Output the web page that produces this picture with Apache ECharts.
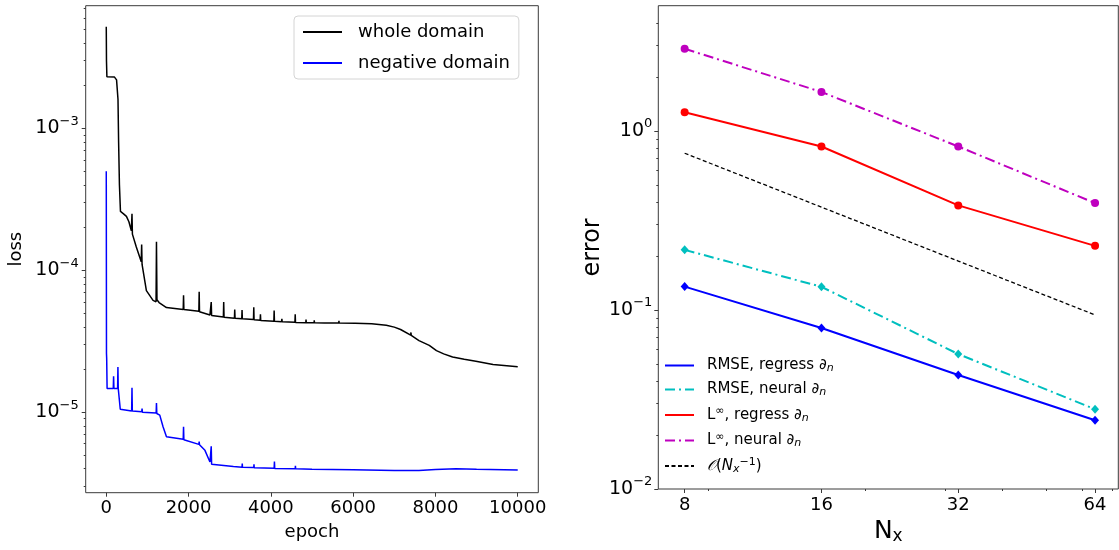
<!DOCTYPE html>
<html>
<head>
<meta charset="utf-8">
<script src="https://cdn.jsdelivr.net/npm/echarts@6/dist/echarts.min.js"></script>
<style>
html, body { margin: 0; padding: 0; background: #fff; }
#main { width: 1119px; height: 550px; }
</style>
</head>
<body>
<div id="main"></div>
<script>
// ---- left panel: training loss ----
var wholeEpoch = [0, 5, 15, 200, 250, 285, 300, 320, 345, 420, 490, 550, 610, 625, 635, 730, 850, 860, 870, 975, 1137, 1210, 1220, 1232, 1283, 1463,
    1870, 1878, 1886, 2250, 2258, 2266, 2520, 2545, 2551, 2560, 2846, 2854, 2862, 3115, 3122, 3130, 3293, 3300, 3307,
    3578, 3585, 3592, 3740, 3747, 3754, 4073, 4080, 4087, 4261, 4268, 4275, 4585, 4592, 4599,
    4850, 4855, 4860, 5050, 5055, 5060, 5300, 5305, 5310, 5650, 5655, 5660, 6050, 6055, 6060, 6450, 6455, 6460,
    6805, 7000, 7153, 7398, 7405, 7412, 7600, 7850, 8025, 8200, 8417, 8700, 8983, 9400, 10000];
var wholeLoss = [5.2e-3, 3.0e-3, 2.31e-3, 2.3e-3, 2.2e-3, 1.6e-3, 8e-4, 4e-4, 2.6e-4, 2.5e-4, 2.4e-4, 2.2e-4, 1.9e-4, 2.5e-4, 1.8e-4, 1.46e-4, 1.15e-4, 1.52e-4, 1.1e-4, 7.2e-5, 6.15e-5, 6.0e-5, 1.59e-4, 6.2e-5, 5.93e-5, 5.47e-5,
    5.3e-5, 6.67e-5, 5.3e-5, 5.14e-5, 7.05e-5, 5.1e-5, 4.85e-5, 4.82e-5, 5.98e-5, 4.8e-5, 4.69e-5, 5.98e-5, 4.68e-5, 4.6e-5, 5.3e-5, 4.6e-5, 4.55e-5, 5.25e-5, 4.55e-5,
    4.5e-5, 5.5e-5, 4.48e-5, 4.45e-5, 4.9e-5, 4.43e-5, 4.38e-5, 5.2e-5, 4.37e-5, 4.35e-5, 4.55e-5, 4.34e-5, 4.3e-5, 4.9e-5, 4.29e-5,
    4.28e-5, 4.5e-5, 4.28e-5, 4.27e-5, 4.45e-5, 4.27e-5, 4.26e-5, 4.4e-5, 4.26e-5, 4.25e-5, 4.4e-5, 4.25e-5, 4.24e-5, 4.35e-5, 4.23e-5, 4.2e-5, 4.3e-5, 4.2e-5,
    4.1e-5, 3.98e-5, 3.83e-5, 3.5e-5, 3.65e-5, 3.48e-5, 3.2e-5, 2.96e-5, 2.72e-5, 2.58e-5, 2.45e-5, 2.36e-5, 2.29e-5, 2.17e-5, 2.09e-5];
var negEpoch = [0, 5, 10, 20, 170, 178, 186, 275, 283, 291, 340, 360, 617, 625, 633, 862, 870, 878, 1212, 1220, 1228, 1300, 1380, 1463,
    1870, 1878, 1886, 2250, 2258, 2266, 2398, 2520, 2545, 2551, 2560, 2577, 3090, 3300, 3305, 3310, 3585, 3590, 3595,
    4080, 4087, 4094, 4592, 4597, 4602, 5000, 6000, 7000, 7600, 8000, 8500, 9000, 10000];
var negLoss = [5.0e-4, 2.6e-5, 2.39e-5, 1.47e-5, 1.47e-5, 1.79e-5, 1.47e-5, 1.47e-5, 2.08e-5, 1.47e-5, 1.05e-5, 1.02e-5, 1.02e-5, 1.49e-5, 1.02e-5, 1.01e-5, 1.06e-5, 1.0e-5, 9.86e-6, 1.16e-5, 9.8e-6, 9.55e-6, 7.9e-6, 6.73e-6,
    6.46e-6, 7.9e-6, 6.4e-6, 5.94e-6, 6.2e-6, 5.9e-6, 5.39e-6, 4.46e-6, 4.35e-6, 5.75e-6, 4.3e-6, 4.28e-6, 4.15e-6, 4.1e-6, 4.35e-6, 4.1e-6, 4.08e-6, 4.3e-6, 4.07e-6,
    4.03e-6, 4.5e-6, 4.02e-6, 4.0e-6, 4.2e-6, 4.0e-6, 3.97e-6, 3.93e-6, 3.89e-6, 3.88e-6, 3.95e-6, 4.0e-6, 3.97e-6, 3.92e-6];
var epochTicks = [0, 2000, 4000, 6000, 8000, 10000];
var lossTicks = [1e-5, 1e-4, 1e-3];
var lossTickLabels = ['10{s|−5}', '10{s|−4}', '10{s|−3}'];
var lossMinorTicks = [3e-6, 4e-6, 5e-6, 6e-6, 7e-6, 8e-6, 9e-6,
    2e-5, 3e-5, 4e-5, 5e-5, 6e-5, 7e-5, 8e-5, 9e-5,
    2e-4, 3e-4, 4e-4, 5e-4, 6e-4, 7e-4, 8e-4, 9e-4,
    2e-3, 3e-3, 4e-3, 5e-3, 6e-3, 7e-3];

// ---- right panel: error vs N_x ----
var nx = [8, 16, 32, 64];
var rmseRegress = [0.135, 0.0792, 0.0433, 0.0242];
var rmseNeural = [0.2165, 0.1346, 0.0567, 0.0279];
var linfRegress = [1.27, 0.818, 0.3836, 0.228];
var linfNeural = [2.874, 1.649, 0.818, 0.395];
var refOrder = [0.75, 0.375, 0.1875, 0.09375];
var nxMinorTicks = [9, 20, 30, 40, 50, 60, 70];
var errTicks = [0.01, 0.1, 1];
var errTickLabels = ['10{s|−2}', '10{s|−1}', '10{s|0}'];
var errMinorTicks = [0.02, 0.03, 0.04, 0.05, 0.06, 0.07, 0.08, 0.09,
    0.2, 0.3, 0.4, 0.5, 0.6, 0.7, 0.8, 0.9, 2, 3, 4];

var errNames = ['RMSE, regress ∂n', 'RMSE, neural ∂n', 'L∞, regress ∂n', 'L∞, neural ∂n', 'O(Nx^-1)'];
var errLegendLabels = [
    '{t|RMSE, regress ∂}{sub|n}',
    '{t|RMSE, neural ∂}{sub|n}',
    '{t|L}{sup|∞}{t|, regress ∂}{sub|n}',
    '{t|L}{sup|∞}{t|, neural ∂}{sub|n}',
    '{it|𝒪}{t|(}{it|N}{sub|x}{sup|−1}{t|)}'
];

var FONT = 'DejaVu Sans';
var FRAME = '#3a3a3a';

function zip(xs, ys) {
    return xs.map(function (x, i) { return [x, ys[i]]; });
}
function pickLabel(ticks, labels, v) {
    for (var i = 0; i < ticks.length; i++) {
        if (Math.abs(Math.log10(v) - Math.log10(ticks[i])) < 1e-6) return labels[i];
    }
    return '';
}

var supRich = {
    s: {fontSize: 13, fontFamily: FONT, color: '#000', padding: [0, 0, 14, 0]}
};

// shared pieces for the invisible "minor tick" axes
function minorAxis(type, gridIndex, pos, extra) {
    var a = {
        type: type, gridIndex: gridIndex, position: pos,
        axisLine: {show: false, onZero: false},
        axisLabel: {show: false},
        splitLine: {show: false}
    };
    for (var k in extra) a[k] = extra[k];
    return a;
}

var chart = echarts.init(document.getElementById('main'));
var option = {
    animation: false,
    backgroundColor: '#fff',
    textStyle: {fontFamily: FONT},
    grid: [
        {left: 85.7, top: 5.7, width: 452.6, height: 487, show: true, borderColor: FRAME, borderWidth: 1, backgroundColor: 'transparent'},
        {left: 658.3, top: 5.7, width: 460, height: 484.3, show: true, borderColor: FRAME, borderWidth: 1, backgroundColor: 'transparent'}
    ],
    xAxis: [
        {
            type: 'value', gridIndex: 0, position: 'bottom', min: -500, max: 10500,
            name: 'epoch', nameLocation: 'middle', nameGap: 31,
            nameTextStyle: {fontSize: 18, color: '#000', fontFamily: FONT},
            axisLine: {show: false, onZero: false},
            axisTick: {customValues: epochTicks, length: 4, lineStyle: {color: FRAME}},
            axisLabel: {customValues: epochTicks, fontSize: 18, color: '#000', margin: 7,
                formatter: function (v) { return String(v); }},
            splitLine: {show: false}
        },
        {
            type: 'log', logBase: 2, gridIndex: 1, position: 'bottom', min: 7, max: 72,
            name: 'N{sub|x}', nameLocation: 'middle', nameGap: 29,
            nameTextStyle: {fontSize: 25, color: '#000', fontFamily: FONT,
                rich: {sub: {fontSize: 17, fontFamily: FONT, color: '#000', padding: [10, 0, 0, 0]}}},
            axisLine: {show: false, onZero: false},
            axisTick: {customValues: nx, length: 4, lineStyle: {color: FRAME}},
            axisLabel: {customValues: nx, fontSize: 18, color: '#000', margin: 7,
                formatter: function (v) { return String(Math.round(v)); }},
            splitLine: {show: false}
        },
        minorAxis('log', 1, 'bottom', {
            logBase: 2, min: 7, max: 72,
            axisTick: {customValues: nxMinorTicks, length: 2, lineStyle: {color: FRAME}}
        })
    ],
    yAxis: [
        {
            type: 'log', gridIndex: 0, position: 'left', min: Math.pow(10, -5.567), max: Math.pow(10, -2.135),
            name: 'loss', nameLocation: 'middle', nameGap: 60,
            nameTextStyle: {fontSize: 18, color: '#000', fontFamily: FONT},
            axisLine: {show: false, onZero: false},
            axisTick: {customValues: lossTicks, length: 4, lineStyle: {color: FRAME}},
            axisLabel: {customValues: lossTicks, fontSize: 19, color: '#000', margin: 7, rich: supRich,
                formatter: function (v) { return pickLabel(lossTicks, lossTickLabels, v); }},
            splitLine: {show: false}
        },
        minorAxis('log', 0, 'left', {
            min: Math.pow(10, -5.567), max: Math.pow(10, -2.135),
            axisTick: {customValues: lossMinorTicks, length: 2, lineStyle: {color: FRAME}}
        }),
        {
            type: 'log', gridIndex: 1, position: 'left', min: 0.01, max: 5,
            name: 'error', nameLocation: 'middle', nameGap: 54,
            nameTextStyle: {fontSize: 24, color: '#000', fontFamily: FONT},
            axisLine: {show: false, onZero: false},
            axisTick: {customValues: errTicks, length: 4, lineStyle: {color: FRAME}},
            axisLabel: {customValues: errTicks, fontSize: 19, color: '#000', margin: 6, rich: supRich,
                formatter: function (v) { return pickLabel(errTicks, errTickLabels, v); }},
            splitLine: {show: false}
        },
        minorAxis('log', 1, 'left', {
            min: 0.01, max: 5,
            axisTick: {customValues: errMinorTicks, length: 2, lineStyle: {color: FRAME}}
        })
    ],
    legend: [
        {
            data: ['whole domain', 'negative domain'],
            orient: 'vertical', left: 294, top: 16,
            padding: [7, 9, 7, 8], itemGap: 13,
            itemWidth: 39, itemHeight: 14,
            itemStyle: {opacity: 0},
            backgroundColor: 'rgba(255,255,255,0.8)',
            borderColor: '#d4d4d4', borderWidth: 1, borderRadius: 4,
            textStyle: {fontSize: 18, color: '#000', fontFamily: FONT, padding: [0, 0, 0, 11]}
        },
        {
            data: errNames,
            orient: 'vertical', left: 664, top: 358,
            padding: 0, itemGap: 8,
            itemWidth: 29, itemHeight: 14,
            itemStyle: {opacity: 0},
            formatter: function (name) { return errLegendLabels[errNames.indexOf(name)]; },
            textStyle: {
                fontSize: 15, color: '#000', fontFamily: FONT, padding: [0, 0, 0, 8],
                rich: {
                    t: {fontSize: 15, fontFamily: FONT, color: '#000'},
                    it: {fontSize: 15, fontFamily: FONT, fontStyle: 'italic', color: '#000'},
                    sub: {fontSize: 11, fontFamily: FONT, fontStyle: 'italic', color: '#000', padding: [6, 0, 0, 0]},
                    sup: {fontSize: 11, fontFamily: FONT, color: '#000', padding: [0, 0, 7, 0]}
                }
            }
        }
    ],
    series: [
        {
            name: 'whole domain', type: 'line', xAxisIndex: 0, yAxisIndex: 0,
            data: zip(wholeEpoch, wholeLoss), symbol: 'none',
            lineStyle: {color: '#000', width: 1.5}, itemStyle: {color: '#000'}
        },
        {
            name: 'negative domain', type: 'line', xAxisIndex: 0, yAxisIndex: 0,
            data: zip(negEpoch, negLoss), symbol: 'none',
            lineStyle: {color: '#0000ff', width: 1.5}, itemStyle: {color: '#0000ff'}
        },
        {
            name: errNames[0], type: 'line', xAxisIndex: 1, yAxisIndex: 2,
            data: zip(nx, rmseRegress), symbol: 'diamond', symbolSize: [8, 9],
            lineStyle: {color: '#0000ff', width: 2}, itemStyle: {color: '#0000ff'}
        },
        {
            name: errNames[1], type: 'line', xAxisIndex: 1, yAxisIndex: 2,
            data: zip(nx, rmseNeural), symbol: 'diamond', symbolSize: [8, 9],
            lineStyle: {color: '#00bfbf', width: 2, type: [10, 4, 2, 4]}, itemStyle: {color: '#00bfbf'}
        },
        {
            name: errNames[2], type: 'line', xAxisIndex: 1, yAxisIndex: 2,
            data: zip(nx, linfRegress), symbol: 'circle', symbolSize: 8,
            lineStyle: {color: '#ff0000', width: 2}, itemStyle: {color: '#ff0000'}
        },
        {
            name: errNames[3], type: 'line', xAxisIndex: 1, yAxisIndex: 2,
            data: zip(nx, linfNeural), symbol: 'circle', symbolSize: 8,
            lineStyle: {color: '#bf00bf', width: 2, type: [10, 4, 2, 4]}, itemStyle: {color: '#bf00bf'}
        },
        {
            name: errNames[4], type: 'line', xAxisIndex: 1, yAxisIndex: 2,
            data: zip(nx, refOrder), symbol: 'none',
            lineStyle: {color: '#000', width: 1.3, type: [4, 2.5]}, itemStyle: {color: '#000'}
        }
    ]
};
chart.setOption(option);
</script>
</body>
</html>
